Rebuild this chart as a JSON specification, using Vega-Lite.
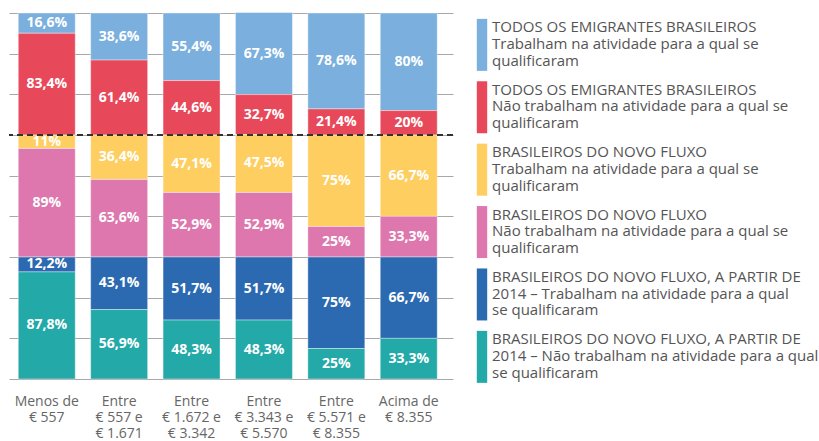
{
  "$schema": "https://vega.github.io/schema/vega-lite/v6.json",
  "padding": {"left": 8, "top": 12, "right": 0, "bottom": 0},
  "background": "white",
  "spacing": 16,
  "config": {
    "view": {"stroke": null},
    "locale": {"number": {"decimal": ",", "thousands": ".", "grouping": [3], "currency": ["€", ""]}},
    "font": "Open Sans"
  },
  "datasets": {
    "valores": [
      {"faixa": "Menos de|€ 557", "serie": "TODOS OS EMIGRANTES BRASILEIROS|Trabalham na atividade para a qual se|qualificaram", "i": 1, "v": 0.166},
      {"faixa": "Menos de|€ 557", "serie": "TODOS OS EMIGRANTES BRASILEIROS|Não trabalham na atividade para a qual se|qualificaram", "i": 2, "v": 0.834},
      {"faixa": "Menos de|€ 557", "serie": "BRASILEIROS DO NOVO FLUXO|Trabalham na atividade para a qual se|qualificaram", "i": 3, "v": 0.11},
      {"faixa": "Menos de|€ 557", "serie": "BRASILEIROS DO NOVO FLUXO|Não trabalham na atividade para a qual se|qualificaram", "i": 4, "v": 0.89},
      {"faixa": "Menos de|€ 557", "serie": "BRASILEIROS DO NOVO FLUXO, A PARTIR DE|2014 – Trabalham na atividade para a qual|se qualificaram", "i": 5, "v": 0.122},
      {"faixa": "Menos de|€ 557", "serie": "BRASILEIROS DO NOVO FLUXO, A PARTIR DE|2014 – Não trabalham na atividade para a qual|se qualificaram", "i": 6, "v": 0.878},

      {"faixa": "Entre|€ 557 e|€ 1.671", "serie": "TODOS OS EMIGRANTES BRASILEIROS|Trabalham na atividade para a qual se|qualificaram", "i": 1, "v": 0.386},
      {"faixa": "Entre|€ 557 e|€ 1.671", "serie": "TODOS OS EMIGRANTES BRASILEIROS|Não trabalham na atividade para a qual se|qualificaram", "i": 2, "v": 0.614},
      {"faixa": "Entre|€ 557 e|€ 1.671", "serie": "BRASILEIROS DO NOVO FLUXO|Trabalham na atividade para a qual se|qualificaram", "i": 3, "v": 0.364},
      {"faixa": "Entre|€ 557 e|€ 1.671", "serie": "BRASILEIROS DO NOVO FLUXO|Não trabalham na atividade para a qual se|qualificaram", "i": 4, "v": 0.636},
      {"faixa": "Entre|€ 557 e|€ 1.671", "serie": "BRASILEIROS DO NOVO FLUXO, A PARTIR DE|2014 – Trabalham na atividade para a qual|se qualificaram", "i": 5, "v": 0.431},
      {"faixa": "Entre|€ 557 e|€ 1.671", "serie": "BRASILEIROS DO NOVO FLUXO, A PARTIR DE|2014 – Não trabalham na atividade para a qual|se qualificaram", "i": 6, "v": 0.569},

      {"faixa": "Entre|€ 1.672 e|€ 3.342", "serie": "TODOS OS EMIGRANTES BRASILEIROS|Trabalham na atividade para a qual se|qualificaram", "i": 1, "v": 0.554},
      {"faixa": "Entre|€ 1.672 e|€ 3.342", "serie": "TODOS OS EMIGRANTES BRASILEIROS|Não trabalham na atividade para a qual se|qualificaram", "i": 2, "v": 0.446},
      {"faixa": "Entre|€ 1.672 e|€ 3.342", "serie": "BRASILEIROS DO NOVO FLUXO|Trabalham na atividade para a qual se|qualificaram", "i": 3, "v": 0.471},
      {"faixa": "Entre|€ 1.672 e|€ 3.342", "serie": "BRASILEIROS DO NOVO FLUXO|Não trabalham na atividade para a qual se|qualificaram", "i": 4, "v": 0.529},
      {"faixa": "Entre|€ 1.672 e|€ 3.342", "serie": "BRASILEIROS DO NOVO FLUXO, A PARTIR DE|2014 – Trabalham na atividade para a qual|se qualificaram", "i": 5, "v": 0.517},
      {"faixa": "Entre|€ 1.672 e|€ 3.342", "serie": "BRASILEIROS DO NOVO FLUXO, A PARTIR DE|2014 – Não trabalham na atividade para a qual|se qualificaram", "i": 6, "v": 0.483},

      {"faixa": "Entre|€ 3.343 e|€ 5.570", "serie": "TODOS OS EMIGRANTES BRASILEIROS|Trabalham na atividade para a qual se|qualificaram", "i": 1, "v": 0.673},
      {"faixa": "Entre|€ 3.343 e|€ 5.570", "serie": "TODOS OS EMIGRANTES BRASILEIROS|Não trabalham na atividade para a qual se|qualificaram", "i": 2, "v": 0.327},
      {"faixa": "Entre|€ 3.343 e|€ 5.570", "serie": "BRASILEIROS DO NOVO FLUXO|Trabalham na atividade para a qual se|qualificaram", "i": 3, "v": 0.475},
      {"faixa": "Entre|€ 3.343 e|€ 5.570", "serie": "BRASILEIROS DO NOVO FLUXO|Não trabalham na atividade para a qual se|qualificaram", "i": 4, "v": 0.529},
      {"faixa": "Entre|€ 3.343 e|€ 5.570", "serie": "BRASILEIROS DO NOVO FLUXO, A PARTIR DE|2014 – Trabalham na atividade para a qual|se qualificaram", "i": 5, "v": 0.517},
      {"faixa": "Entre|€ 3.343 e|€ 5.570", "serie": "BRASILEIROS DO NOVO FLUXO, A PARTIR DE|2014 – Não trabalham na atividade para a qual|se qualificaram", "i": 6, "v": 0.483},

      {"faixa": "Entre|€ 5.571 e|€ 8.355", "serie": "TODOS OS EMIGRANTES BRASILEIROS|Trabalham na atividade para a qual se|qualificaram", "i": 1, "v": 0.786},
      {"faixa": "Entre|€ 5.571 e|€ 8.355", "serie": "TODOS OS EMIGRANTES BRASILEIROS|Não trabalham na atividade para a qual se|qualificaram", "i": 2, "v": 0.214},
      {"faixa": "Entre|€ 5.571 e|€ 8.355", "serie": "BRASILEIROS DO NOVO FLUXO|Trabalham na atividade para a qual se|qualificaram", "i": 3, "v": 0.75},
      {"faixa": "Entre|€ 5.571 e|€ 8.355", "serie": "BRASILEIROS DO NOVO FLUXO|Não trabalham na atividade para a qual se|qualificaram", "i": 4, "v": 0.25},
      {"faixa": "Entre|€ 5.571 e|€ 8.355", "serie": "BRASILEIROS DO NOVO FLUXO, A PARTIR DE|2014 – Trabalham na atividade para a qual|se qualificaram", "i": 5, "v": 0.75},
      {"faixa": "Entre|€ 5.571 e|€ 8.355", "serie": "BRASILEIROS DO NOVO FLUXO, A PARTIR DE|2014 – Não trabalham na atividade para a qual|se qualificaram", "i": 6, "v": 0.25},

      {"faixa": "Acima de|€ 8.355", "serie": "TODOS OS EMIGRANTES BRASILEIROS|Trabalham na atividade para a qual se|qualificaram", "i": 1, "v": 0.8},
      {"faixa": "Acima de|€ 8.355", "serie": "TODOS OS EMIGRANTES BRASILEIROS|Não trabalham na atividade para a qual se|qualificaram", "i": 2, "v": 0.2},
      {"faixa": "Acima de|€ 8.355", "serie": "BRASILEIROS DO NOVO FLUXO|Trabalham na atividade para a qual se|qualificaram", "i": 3, "v": 0.667},
      {"faixa": "Acima de|€ 8.355", "serie": "BRASILEIROS DO NOVO FLUXO|Não trabalham na atividade para a qual se|qualificaram", "i": 4, "v": 0.333},
      {"faixa": "Acima de|€ 8.355", "serie": "BRASILEIROS DO NOVO FLUXO, A PARTIR DE|2014 – Trabalham na atividade para a qual|se qualificaram", "i": 5, "v": 0.667},
      {"faixa": "Acima de|€ 8.355", "serie": "BRASILEIROS DO NOVO FLUXO, A PARTIR DE|2014 – Não trabalham na atividade para a qual|se qualificaram", "i": 6, "v": 0.333}
    ],
    "series": [
      {"serie": "TODOS OS EMIGRANTES BRASILEIROS|Trabalham na atividade para a qual se|qualificaram", "i": 1},
      {"serie": "TODOS OS EMIGRANTES BRASILEIROS|Não trabalham na atividade para a qual se|qualificaram", "i": 2},
      {"serie": "BRASILEIROS DO NOVO FLUXO|Trabalham na atividade para a qual se|qualificaram", "i": 3},
      {"serie": "BRASILEIROS DO NOVO FLUXO|Não trabalham na atividade para a qual se|qualificaram", "i": 4},
      {"serie": "BRASILEIROS DO NOVO FLUXO, A PARTIR DE|2014 – Trabalham na atividade para a qual|se qualificaram", "i": 5},
      {"serie": "BRASILEIROS DO NOVO FLUXO, A PARTIR DE|2014 – Não trabalham na atividade para a qual|se qualificaram", "i": 6}
    ]
  },
  "hconcat": [
    {
      "width": 444,
      "height": 366,
      "data": {"name": "valores"},
      "layer": [
        {
          "mark": {"type": "bar", "stroke": "#ffffff", "strokeOpacity": 0.5, "strokeWidth": 0.8},
          "encoding": {
            "x": {
              "field": "faixa",
              "type": "nominal",
              "sort": null,
              "scale": {"paddingInner": 0.213, "paddingOuter": 0.173, "align": 0.37},
              "axis": {
                "title": null,
                "labelAngle": 0,
                "labelExpr": "split(datum.label, '|')",
                "labelFont": "Open Sans",
                "labelFontSize": 14,
                "labelColor": "#666666",
                "labelLineHeight": 16,
                "labelPadding": 15,
                "labelBaseline": "top",
                "ticks": false,
                "domain": false
              }
            },
            "y": {
              "field": "v",
              "type": "quantitative",
              "stack": "zero",
              "scale": {"domain": [0, 3], "nice": false},
              "axis": {
                "title": null,
                "labels": false,
                "ticks": false,
                "domain": false,
                "grid": true,
                "gridColor": "#a8a8a8",
                "gridWidth": 1,
                "values": [0, 0.3333333, 0.6666667, 1, 1.3333333, 1.6666667, 2, 2.3333333, 2.6666667, 3]
              }
            },
            "order": {"field": "i", "sort": "descending"},
            "color": {
              "field": "serie",
              "type": "nominal",
              "scale": {
                "domain": [
                  "TODOS OS EMIGRANTES BRASILEIROS|Trabalham na atividade para a qual se|qualificaram",
                  "TODOS OS EMIGRANTES BRASILEIROS|Não trabalham na atividade para a qual se|qualificaram",
                  "BRASILEIROS DO NOVO FLUXO|Trabalham na atividade para a qual se|qualificaram",
                  "BRASILEIROS DO NOVO FLUXO|Não trabalham na atividade para a qual se|qualificaram",
                  "BRASILEIROS DO NOVO FLUXO, A PARTIR DE|2014 – Trabalham na atividade para a qual|se qualificaram",
                  "BRASILEIROS DO NOVO FLUXO, A PARTIR DE|2014 – Não trabalham na atividade para a qual|se qualificaram"
                ],
                "range": ["#7aafde", "#e8495a", "#fece60", "#dd77ad", "#2b69b1", "#23a9a8"]
              },
              "legend": null
            }
          }
        },
        {
          "mark": {"type": "text", "color": "white", "fontWeight": "bold", "fontSize": 14, "font": "Open Sans", "baseline": "middle"},
          "encoding": {
            "x": {"field": "faixa", "type": "nominal", "sort": null},
            "y": {"field": "v", "type": "quantitative", "stack": "zero", "bandPosition": 0.5},
            "order": {"field": "i", "sort": "descending"},
            "detail": {"field": "serie"},
            "text": {"field": "v", "type": "quantitative", "format": ".3~%"}
          }
        },
        {
          "mark": {"type": "rule", "color": "#333333", "strokeDash": [6, 4], "strokeWidth": 1.5},
          "encoding": {"y": {"datum": 2}}
        }
      ]
    },
    {
      "width": 345,
      "height": 366,
      "data": {"name": "series"},
      "encoding": {
        "y": {
          "field": "i",
          "type": "ordinal",
          "scale": {"type": "point", "padding": 0.4327, "align": 0.59},
          "axis": null
        }
      },
      "layer": [
        {
          "mark": {"type": "point", "shape": "M-0.2,-1H0.2V1H-0.2Z", "size": 2704, "filled": true, "opacity": 1, "strokeWidth": 0},
          "encoding": {
            "x": {"value": 12},
            "color": {"field": "serie", "type": "nominal", "legend": null}
          }
        },
        {
          "mark": {"type": "text", "align": "left", "baseline": "top", "dy": -24.5, "lineBreak": "|", "lineHeight": 16.7, "font": "Open Sans", "fontSize": 15, "color": "#555555"},
          "encoding": {
            "x": {"value": 22},
            "text": {"field": "serie"}
          }
        }
      ]
    }
  ]
}
